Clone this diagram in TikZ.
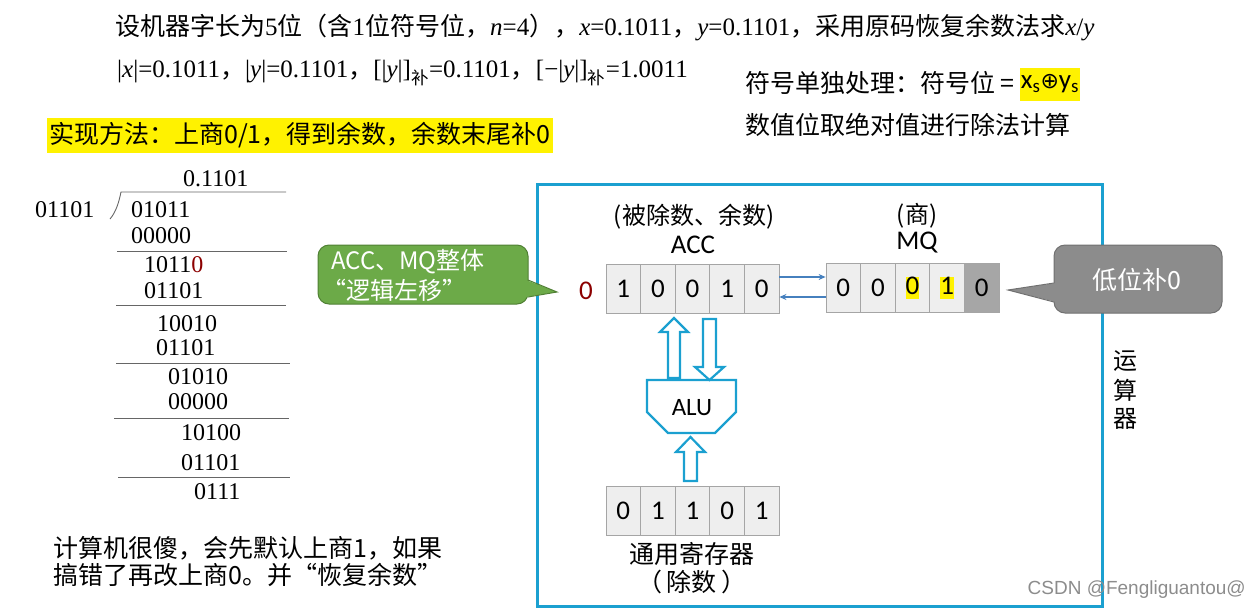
\documentclass[tikz,border=0pt]{standalone}
\usepackage{fontspec}
\usetikzlibrary{arrows.meta}
\setmainfont{Liberation Serif}
\newfontfamily\cjk{Noto Sans CJK SC}
\newfontfamily\calib{Carlito}
\newfontfamily\dejavu{DejaVu Sans}
\newfontfamily\wmark{Liberation Sans}
\newcommand\fsz[1]{\fontsize{#1}{#1}\selectfont}
\newcommand\hlbox[1]{{\setlength\fboxsep{0pt}\colorbox{yellow}{\rule[-4pt]{0pt}{21pt}#1}}}
\definecolor{boxblue}{RGB}{27,160,208}
\definecolor{linkblue}{RGB}{70,128,190}
\definecolor{cellgray}{RGB}{238,238,238}
\definecolor{celledge}{RGB}{165,165,165}
\definecolor{darkcell}{RGB}{166,166,166}
\definecolor{calgreen}{RGB}{108,170,72}
\definecolor{calgreenedge}{RGB}{80,128,52}
\definecolor{calgray}{RGB}{140,140,140}
\definecolor{calgrayedge}{RGB}{112,112,112}
\definecolor{digitred}{RGB}{140,0,0}
\begin{document}
\begin{tikzpicture}[x=1pt,y=-1pt,
  txt/.style={anchor=west,inner sep=0pt},
  ctxt/.style={inner sep=0pt},
  divnum/.style={anchor=west,inner sep=0pt,font=\fsz{24}},
  divline/.style={draw=black!60,line width=0.9pt},
  cell/.style={draw=celledge,fill=cellgray,line width=0.8pt,minimum width=34.6pt,
    minimum height=49pt,inner sep=0pt,font=\calib\fsz{27}},
  hollow/.style={draw=boxblue,line width=2.2pt,fill=white,line join=miter},
  link/.style={draw=linkblue,line width=1.1pt,-{Stealth[length=7pt,width=6pt]}},
  lbl/.style={inner sep=0pt,font=\cjk\fsz{24}}]
\useasboundingbox (0,0) rectangle (1260,611);

% ---------- statement ----------
\node[txt] (t1) at (115,27) {\fsz{25}{\cjk 设机器字长为}5{\cjk 位（含}1{\cjk 位符号位，}\textit{n}=4{\cjk ），}\textit{x}=0.1011{\cjk ，}\textit{y}=0.1101{\cjk ，采用原码恢复余数法求}\textit{x}/\textit{y}};
\node[txt] (t2) at (117,73) {\fsz{25}|\textit{x}|=0.1011{\cjk ，}|\textit{y}|=0.1101{\cjk ，}[|\textit{y}|]\textsubscript{\cjk 补}=0.1101{\cjk ，}[−|\textit{y}|]\textsubscript{\cjk 补}=1.0011};

\node[txt] (t3) at (745,83) {\cjk\fsz{25}符号单独处理：符号位 =};
\node[fill=yellow,inner sep=0pt,minimum width=60pt,minimum height=33pt] (xs) at (1050,84)
  {\calib\fsz{27}x\textsubscript{s}{\dejavu\fsz{22}⊕}y\textsubscript{s}};
\node[txt] (t4) at (745,125) {\cjk\fsz{25}数值位取绝对值进行除法计算};

\node[txt,fill=yellow,inner xsep=2pt,minimum height=35pt] (method) at (47,135)
  {\cjk\fsz{25}实现方法：上商0/1，得到余数，余数末尾补0};

% ---------- long division ----------
\node[divnum] (q)  at (183,179) {0.1101};
\node[divnum] (dv) at (35,210)  {01101};
\node[divnum] (r0) at (131,210) {01011};
\node[divnum] (s0) at (131,236) {00000};
\node[divnum] (r1) at (144,265) {1011\textcolor{digitred}{0}};
\node[divnum] (s1) at (144,291) {01101};
\node[divnum] (r2) at (157,324) {10010};
\node[divnum] (s2) at (156,348) {01101};
\node[divnum] (r3) at (168,377) {01010};
\node[divnum] (s3) at (168,402) {00000};
\node[divnum] (r4) at (181,433) {10100};
\node[divnum] (s4) at (181,463) {01101};
\node[divnum] (r5) at (194,492) {0111};
\draw[divline] (110,219) .. controls (116,212) and (119,202) .. (121,192) -- (286,192);
\draw[divline] (117,251) -- (287,251);
\draw[divline] (116,305) -- (286,305);
\draw[divline] (116,363) -- (290,363);
\draw[divline] (114,418) -- (289,418);
\draw[divline] (118,477) -- (290,477);

\node[txt] (note1) at (53,548) {\cjk\fsz{25}计算机很傻，会先默认上商1，如果};
\node[txt] (note2) at (53,575) {\cjk\fsz{25}搞错了再改上商0。并“恢复余数”};

% ---------- arithmetic unit ----------
\draw[boxblue,line width=3pt] (537,184) rectangle (1102,606);
\node[lbl] (u1) at (1125,361) {运};
\node[lbl] (u2) at (1125,390) {算};
\node[lbl] (u3) at (1125,419) {器};

\node[lbl] (acclbl) at (694,217) {(被除数、余数)};
\node[ctxt,font=\calib\fsz{27}] (accname) at (693,245) {ACC};
\node[lbl] (mqlbl) at (917,216) {(商)};
\node[ctxt,font=\calib\fsz{27}] (mqname) at (917,243) {MQ};

\foreach \d [count=\i] in {1,0,0,1,0}
  \node[cell] (acc\i) at ({606+17.3+34.6*(\i-1)},288.5) {\d};
\foreach \d [count=\i] in {0,0,\hlbox{0},\hlbox{1}}
  \node[cell] (mq\i) at ({826+17.3+34.6*(\i-1)},288) {\d};
\node[cell,fill=darkcell] (mq5) at ({826+17.3+34.6*4},288) {0};
\foreach \d [count=\i] in {0,1,1,0,1}
  \node[cell] (gr\i) at ({606+17.3+34.6*(\i-1)},510.5) {\d};
\node[ctxt,font=\calib\fsz{27},text=digitred] (carry) at (586,291) {0};

\draw[link] ([yshift=11.5pt]acc5.east) -- ([yshift=11pt]mq1.west);
\draw[link] ([yshift=-9pt]mq1.west) -- ([yshift=-8.5pt]acc5.east);

% ALU and data paths
\draw[boxblue,line width=2.4pt,fill=white,line join=miter]
  (647,380) -- (736,380) -- (736,412) -- (715,433) -- (668,433) -- (647,412) -- cycle;
\node[ctxt,font=\calib\fsz{25}] (alu) at (692,408) {ALU};
\draw[hollow] (668,378) -- (668,332) -- (660,332) -- (674,318) -- (688,332) -- (680,332) -- (680,378) -- cycle;
\draw[hollow] (703,319) -- (716,319) -- (716,367) -- (724,367) -- (709.5,380) -- (695,367) -- (703,367) -- cycle;
\draw[hollow] (684,481) -- (684,452) -- (676,452) -- (690.5,437) -- (705,452) -- (697,452) -- (697,481) -- cycle;

\node[lbl,font=\cjk\fsz{25}] (grlbl) at (692,554) {通用寄存器};
\node[lbl,font=\cjk\fsz{25}] (grsub) at (692,582) {（\,除数\,）};

% ---------- callouts ----------
\node[draw=calgreenedge,fill=calgreen,line width=1pt,rounded corners=11pt,
  minimum width=210pt,minimum height=59pt,inner sep=0pt] (cg) at (423,274.5) {};
\coordinate (gtip) at (557,292);
\fill[calgreen] (526,280) -- (gtip) -- (526,297) -- cycle;
\draw[calgreenedge,line width=1pt] (528,280) -- (gtip) -- (528,297);
\node[txt,text=white,font=\cjk\fsz{24}] (cg1) at (331,262) {ACC、MQ整体};
\node[txt,text=white,font=\cjk\fsz{24}] (cg2) at (322,290) {“逻辑左移”};

\node[draw=calgrayedge,fill=calgray,line width=1pt,rounded corners=11pt,
  minimum width=168pt,minimum height=68pt,inner sep=0pt] (cgr) at (1138,279) {};
\coordinate (rtip) at (1008,290);
\fill[calgray] (1056,283) -- (rtip) -- (1056,302) -- cycle;
\draw[calgrayedge,line width=1pt] (1054,283) -- (rtip) -- (1054,302);
\node[ctxt,text=white,font=\cjk\fsz{25}] (cgrt) at (1137,280) {低位补0};

\node[anchor=east,inner sep=0pt,text=black!45,font=\wmark\fsz{19}] (wm) at (1246,590) {CSDN @Fengliguantou@};
\end{tikzpicture}
\end{document}
